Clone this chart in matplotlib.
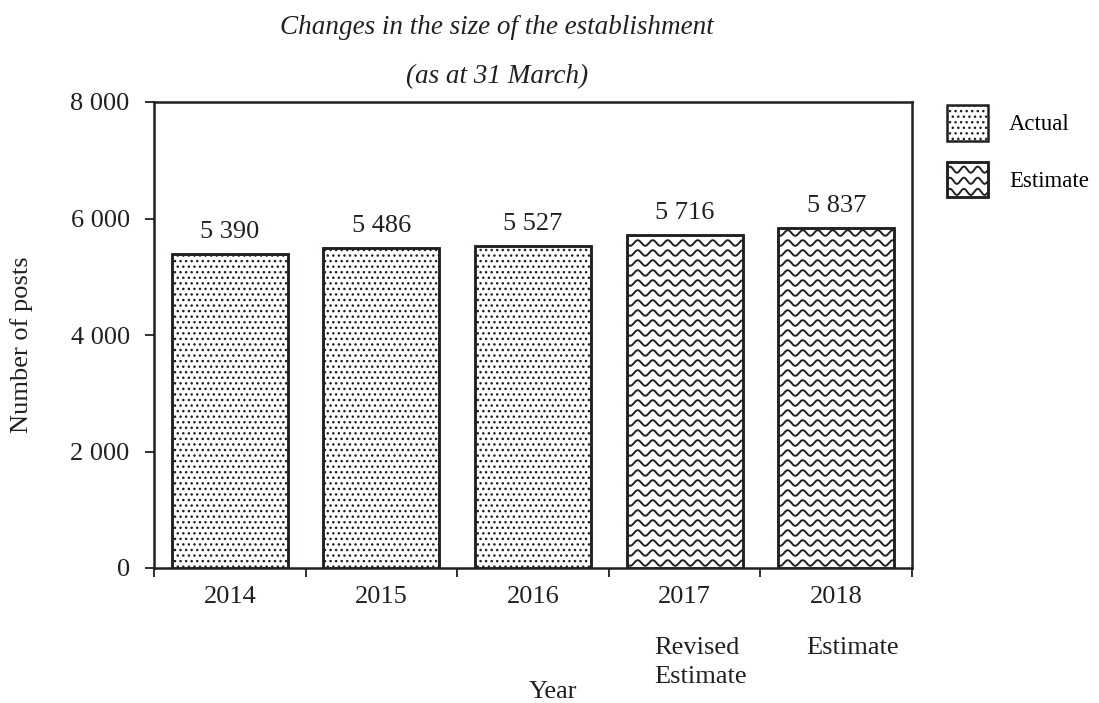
import matplotlib
matplotlib.use('Agg')
import matplotlib.pyplot as plt
import matplotlib.patches as mpatches
from matplotlib.lines import Line2D
from matplotlib.legend_handler import HandlerBase
from matplotlib.ticker import FuncFormatter
import numpy as np

plt.rcParams['font.family'] = ['Liberation Serif', 'DejaVu Serif']
plt.rcParams['hatch.linewidth'] = 1.0
INK = '#231f20'

# data
years = ['2014', '2015', '2016', '2017', '2018']
posts = [5390, 5486, 5527, 5716, 5837]
kind = ['Actual', 'Actual', 'Actual', 'Estimate', 'Estimate']
notes = ['', '', '', 'Revised\nEstimate', 'Estimate']

W, H = 1099, 703
fig = plt.figure(figsize=(W / 100, H / 100), dpi=100)
# axes box in pixels: x 154..912, y 102..568
ax = fig.add_axes([154 / W, 1 - 568 / H, (912 - 154) / W, (568 - 102) / H])

x = np.arange(len(years))
bars = ax.bar(x, posts, width=0.765, color='white', edgecolor=INK,
              linewidth=1.8, zorder=3)
for b, k in zip(bars, kind):
    if k == 'Actual':
        b.set_hatch('...')

ax.set_xlim(-0.5, len(years) - 0.5)
ax.set_ylim(0, 8000)


# wavy fill for estimates, drawn in axes fraction and clipped to the bar
def wave_lines(axis, patch):
    px_w, px_h = 758.0, 466.0
    period = 15.0 / px_w
    amp = 2.8 / px_h
    gap = 10.0 / px_h
    xs = np.linspace(0, 1, 2000)
    for y0 in np.arange(gap / 2, 1.0, gap):
        ys = y0 + amp * np.sin(2 * np.pi * xs / period)
        ln, = axis.plot(xs, ys, transform=axis.transAxes, color=INK,
                        lw=1.4, zorder=4)
        ln.set_clip_path(patch)


for b, k in zip(bars, kind):
    if k == 'Estimate':
        wave_lines(ax, b)

for b in bars:
    ax.add_patch(mpatches.Rectangle(b.get_xy(), b.get_width(), b.get_height(),
                                    fill=False, edgecolor=INK, lw=1.8, zorder=5))

fmt = lambda v, p: f'{int(v):,}'.replace(',', ' ')
for xi, v in zip(x, posts):
    ax.annotate(fmt(v, None), (xi, v), xytext=(0, 11.5), textcoords='offset points',
                ha='center', va='baseline', fontsize=19, color=INK)

ax.set_yticks(range(0, 8001, 2000))
ax.yaxis.set_major_formatter(FuncFormatter(fmt))
ax.set_xticks(np.arange(-0.5, len(years)))
ax.set_xticklabels([])
ax.set_xticks(x, minor=True)
ax.set_xticklabels(years, minor=True)
ax.tick_params(axis='x', which='minor', length=0, pad=13, labelsize=19, colors=INK)
ax.tick_params(axis='both', which='major', direction='out', length=6.5, width=1.3,
               labelsize=19, colors=INK)
ax.tick_params(axis='y', pad=11)
for s in ax.spines.values():
    s.set_linewidth(1.8)
    s.set_color(INK)

for xi, n in zip(x, notes):
    if n:
        ax.text(xi - 0.2, -0.148, n, transform=ax.get_xaxis_transform(),
                ha='left', va='top', fontsize=19, linespacing=1.4, color=INK)

fig.text(553 / W, 1 - 698 / H, 'Year', ha='center', va='baseline',
         fontsize=19, color=INK)
fig.text(22 / W, 1 - 345 / H, 'Number of posts', rotation=90, ha='center',
         va='center', fontsize=19, color=INK)
fig.text(497 / W, 1 - 34 / H, 'Changes in the size of the establishment',
         ha='center', va='baseline', fontsize=19.5, style='italic', color=INK)
fig.text(497 / W, 1 - 83 / H, '(as at 31 March)',
         ha='center', va='baseline', fontsize=19.5, style='italic', color=INK)


# legend with a wavy handle for the estimate
class WaveHandler(HandlerBase):
    def create_artists(self, legend, orig_handle, xdescent, ydescent,
                       width, height, fontsize, trans):
        rect = mpatches.Rectangle((-xdescent, -ydescent), width, height,
                                  facecolor='white', edgecolor=INK, lw=1.8,
                                  transform=trans)
        arts = [rect]
        xs = np.linspace(-xdescent, -xdescent + width, 200)
        for y0 in np.arange(-ydescent + 4, -ydescent + height, 8.0):
            ys = y0 + 2.2 * np.sin(2 * np.pi * xs / 10.0)
            ln = Line2D(xs, ys, color=INK, lw=1.4, transform=trans)
            ln.set_clip_path(rect)
            arts.append(ln)
        edge = mpatches.Rectangle((-xdescent, -ydescent), width, height,
                                  fill=False, edgecolor=INK, lw=1.8,
                                  transform=trans)
        arts.append(edge)
        return arts


h_act = mpatches.Patch(facecolor='white', edgecolor=INK, hatch='...', lw=1.8)
h_est = mpatches.Patch(facecolor='white', edgecolor=INK, lw=1.8)
fig.legend([h_act, h_est], ['Actual', 'Estimate'], loc='upper left',
           bbox_to_anchor=(926 / W, 1 - 85 / H), frameon=False, fontsize=16.4,
           handlelength=1.8, handleheight=1.99, labelspacing=0.96,
           handletextpad=0.95, handler_map={h_est: WaveHandler()})

plt.savefig('out.png', dpi=100)
plt.close()
